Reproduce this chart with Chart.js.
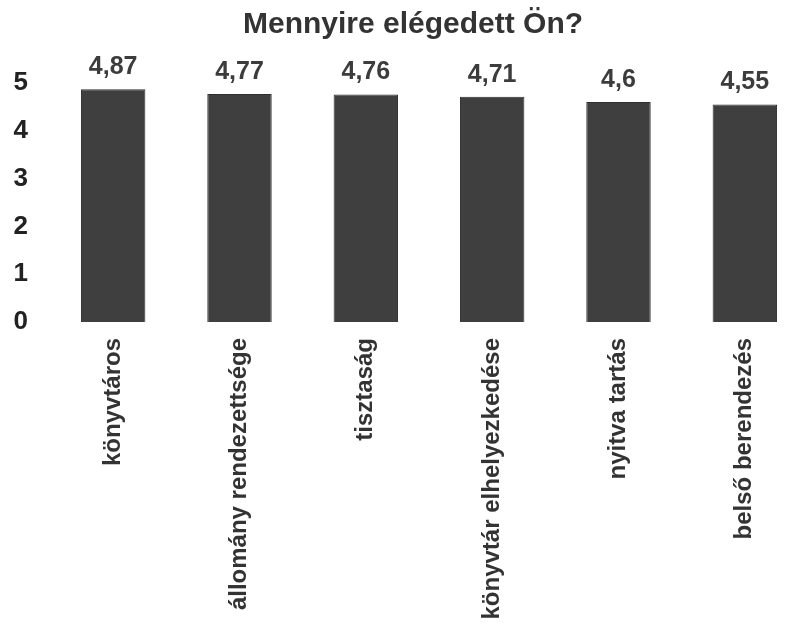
<!DOCTYPE html>
<html>
<head>
<meta charset="utf-8">
<script src="https://cdn.jsdelivr.net/npm/chart.js@4/dist/chart.umd.min.js"></script>
<style>
  html, body { margin: 0; padding: 0; background: #fff; overflow: hidden; }
  #wrap { position: absolute; left: -10px; top: 0; width: 818px; height: 623px; }
</style>
</head>
<body>
<div id="wrap"><canvas id="chartElegedett"></canvas></div>
<script>
// données
var categories = ['könyvtáros', 'állomány rendezettsége', 'tisztaság', 'könyvtár elhelyezkedése', 'nyitva tartás', 'belső berendezés'];
var valeurs = [4.87, 4.77, 4.76, 4.71, 4.6, 4.55];
var yTicks = [0, 1, 2, 3, 4, 5];

// petit plugin pour écrire la valeur au-dessus de chaque barre (virgule décimale)
const etiquettesValeurs = {
    id: 'etiquettesValeurs',
    afterLayout(chart) {
        // le titre est un peu décalé vers la droite dans l'original
        chart.titleBlock.left += 28;
    },
    afterDatasetsDraw(chart) {
        const ctx = chart.ctx;
        const meta = chart.getDatasetMeta(0);
        ctx.save();
        ctx.font = 'bold 25px "Liberation Sans", Arial, sans-serif';
        ctx.fillStyle = '#3c3c3c';
        ctx.textAlign = 'center';
        ctx.textBaseline = 'middle';
        meta.data.forEach(function (bar, i) {
            var txt = String(chart.data.datasets[0].data[i]).replace('.', ',');
            ctx.fillText(txt, bar.x, bar.y - 22);
        });
        ctx.restore();
    }
};

const elem = document.getElementById('chartElegedett').getContext('2d');
new Chart(elem, {
    type: 'bar',
    data: {
        labels: categories,
        datasets: [{
            label: 'Mennyire elégedett Ön?',
            data: valeurs,
            backgroundColor: '#3f3f3f',
            borderColor: '#2e2e2e',
            borderWidth: 1,
            barPercentage: 0.51,
            categoryPercentage: 1
        }]
    },
    options: {
        responsive: true,
        maintainAspectRatio: false,
        animation: false,
        layout: { padding: 0 },
        plugins: {
            legend: { display: false },
            tooltip: { enabled: false },
            title: {
                display: true,
                text: 'Mennyire elégedett Ön?',
                color: '#333',
                font: { family: '"Liberation Sans", Arial, sans-serif', size: 30, weight: 'bold' },
                padding: { top: 7, bottom: 40 }
            }
        },
        scales: {
            y: {
                min: 0,
                max: 5,
                afterBuildTicks: function (axis) {
                    axis.ticks = yTicks.map(function (v) { return { value: v }; });
                },
                afterFit: function (axis) { axis.width = 60; },
                grid: { display: false },
                border: { display: false },
                ticks: {
                    color: '#222',
                    padding: 14,
                    font: { family: '"Liberation Sans", Arial, sans-serif', size: 26, weight: 'bold' }
                }
            },
            x: {
                afterFit: function (axis) { axis.height = 301; },
                grid: { display: false },
                border: { display: false },
                ticks: {
                    color: '#333',
                    minRotation: 90,
                    maxRotation: 90,
                    padding: 8,
                    font: { family: '"Liberation Sans", Arial, sans-serif', size: 24, weight: 'bold' }
                }
            }
        }
    },
    plugins: [etiquettesValeurs]
});
</script>
</body>
</html>
